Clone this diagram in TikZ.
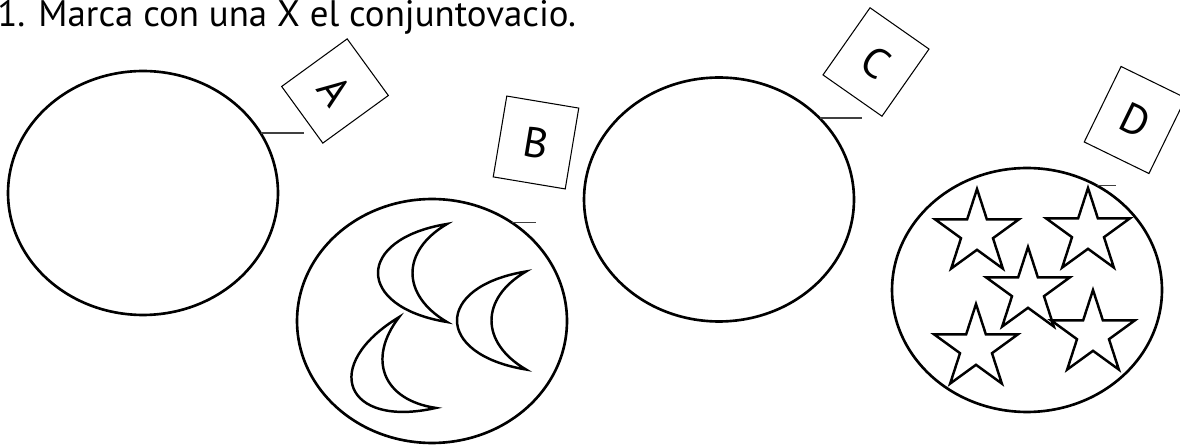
\documentclass[tikz,border=0pt]{standalone}
\usepackage{fontspec}
\setmainfont{PT Sans}
\usetikzlibrary{shapes.geometric}
\begin{document}
\begin{tikzpicture}[
  x=0.02cm, y=-0.02cm,
  set/.style={ellipse, draw, line width=1.5pt, minimum width=5.4cm, minimum height=4.88cm, inner sep=0pt, outer sep=0pt},
  tag/.style={rectangle, draw, line width=0.6pt, minimum width=1.44cm, minimum height=1.64cm, inner sep=0pt, font=\fontsize{24}{24}\selectfont},
  tick/.style={draw=black!75, line width=0.7pt},
  elem/.style={star, star points=5, star point ratio=2.618, draw, line width=1.4pt, minimum size=1.76cm, inner sep=0pt},
  moon/.pic={\draw[line width=1.4pt] (0,-49) .. controls (-92,-34) and (-92,34) .. (0,49) .. controls (-46,22) and (-46,-22) .. (0,-49) -- cycle;},
]
  \useasboundingbox (0,0) rectangle (1180,445);

  \node[anchor=base west, inner sep=0pt, font=\fontsize{21}{21}\selectfont] (title) at (-3,27) {1. Marca con una X el conjuntovacio.};

  \node[set] (setA) at (143,193) {};
  \node[set] (setB) at (432,321) {};
  \node[set] (setC) at (719,199.5) {};
  \node[set] (setD) at (1027,290) {};

  \node[tag, rotate=-54, minimum width=1.4cm, minimum height=1.62cm] (tagA) at (335,91) {A};
  \node[tag, rotate=-9.5, minimum width=1.46cm] (tagB) at (536,142.5) {B};
  \node[tag, rotate=-35] (tagC) at (876,62) {C};
  \node[tag, rotate=-26, minimum height=1.68cm] (tagD) at (1135,120) {D};

  \coordinate (endA) at (304,133);
  \coordinate (endB) at (536,222);
  \coordinate (endC) at (862,117);
  \coordinate (endD) at (1116,186);
  \draw[tick] (setA.27) -- (setA.27 -| endA);
  \draw[tick] (setB.51) -- (setB.51 -| endB);
  \draw[tick] (setC.39.5) -- (setC.39.5 -| endC);
  \draw[tick] (setD.56) -- (setD.56 -| endD);

  \pic at (447,273) {moon};
  \pic at (526,320.5) {moon};
  \pic[rotate=22] at (417.5,362.5) {moon};

  \node[elem] (s1) at (977,233) {};
  \node[elem] (s2) at (1088,232) {};
  \node[elem] (s3) at (1028,291) {};
  \node[elem] (s4) at (976,348) {};
  \node[elem] (s5) at (1093,334) {};
\end{tikzpicture}
\end{document}
